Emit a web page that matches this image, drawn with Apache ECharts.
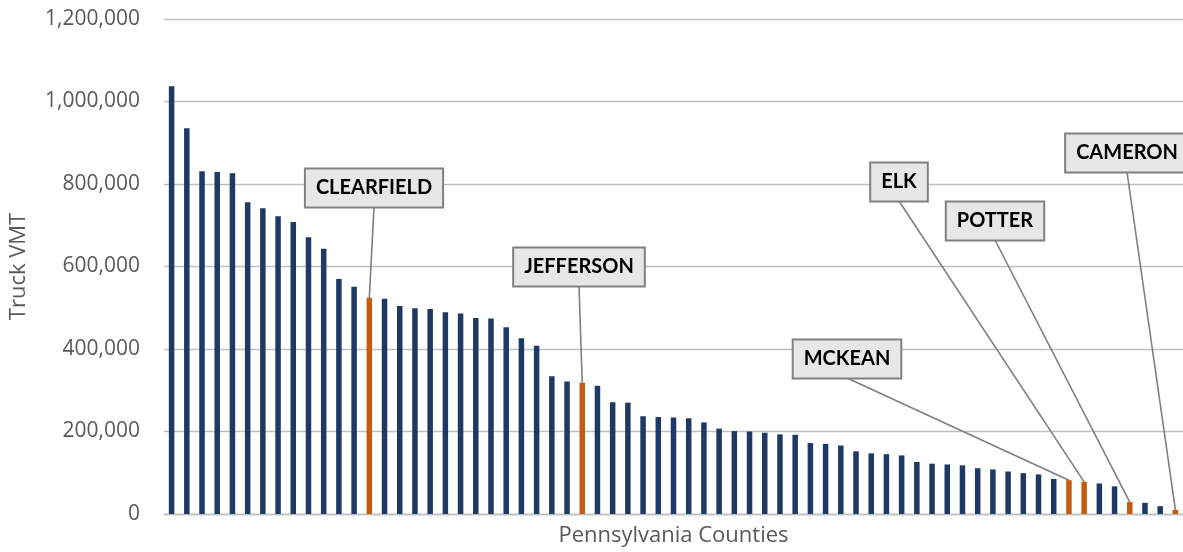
<!DOCTYPE html>
<html>
<head>
<meta charset="utf-8">
<script src="https://cdn.jsdelivr.net/npm/echarts@6/dist/echarts.min.js"></script>
<style>
  html, body { margin: 0; padding: 0; background: #fff; }
  #chart { width: 1183px; height: 552px; }
</style>
</head>
<body>
<div id="chart"></div>
<script>
// Truck VMT by Pennsylvania county, ranked high to low (67 counties)
const truckVMT = [
  1037000, 935000, 831000, 829000, 826000, 756000, 741000, 722000, 708000, 671000,
  643000, 570000, 551000, 524000, 522000, 504000, 499000, 497000, 489000, 486000,
  475000, 474000, 453000, 426000, 408000, 334000, 321000, 318000, 311000, 271000,
  270000, 237000, 235000, 234000, 232000, 222000, 207000, 201000, 200000, 197000,
  193000, 192000, 172000, 170000, 166000, 152000, 147000, 145000, 142000, 126000,
  122000, 120000, 118000, 111000, 108000, 103000, 99000, 96000, 85000, 82000,
  78000, 74000, 67000, 29000, 27000, 19000, 10000
];

// County names shown as callouts; other counties stay unnamed
const countyLabels = [
  '', '', '', '', '', '', '', '', '', '',
  '', '', '', 'CLEARFIELD', '', '', '', '', '', '',
  '', '', '', '', '', '', '', 'JEFFERSON', '', '',
  '', '', '', '', '', '', '', '', '', '',
  '', '', '', '', '', '', '', '', '', '',
  '', '', '', '', '', '', '', '', '', 'MCKEAN',
  'ELK', '', '', 'POTTER', '', '', 'CAMERON'
];

const yTicks = { min: 0, max: 1200000, step: 200000 };

// Callout box centres (px) for the named counties
const calloutPos = {
  CLEARFIELD: [374, 188],
  JEFFERSON: [579, 267],
  MCKEAN: [847, 359],
  ELK: [899, 182],
  POTTER: [995, 221],
  CAMERON: [1127, 153]
};
const CALLOUT_HALF_H = 19;

const NAVY = '#1F3864';
const ORANGE = '#C55A11';
const LEADER = '#7f7f7f';

const categories = countyLabels.map((n, i) => n || String(i + 1));

const barData = truckVMT.map((v, i) => {
  const name = countyLabels[i];
  const item = { value: v, itemStyle: { color: name ? ORANGE : NAVY } };
  if (name) item.label = { show: true };
  return item;
});

// [categoryIndex, value] pairs for the named counties' leader lines
const leaderData = [];
countyLabels.forEach((n, i) => { if (n) leaderData.push([i, truckVMT[i]]); });

const chart = echarts.init(document.getElementById('chart'), null, { renderer: 'canvas' });

chart.setOption({
  animation: false,
  backgroundColor: '#ffffff',
  grid: { left: 162.35, top: 19, width: 1025.1, height: 495, containLabel: false },
  xAxis: {
    type: 'category',
    data: categories,
    name: 'Pennsylvania Counties',
    nameLocation: 'middle',
    nameGap: 11,
    nameTextStyle: { fontFamily: 'Open Sans', fontSize: 22, color: '#595959' },
    axisLine: { show: true, lineStyle: { color: '#bfbfbf', width: 1.3 } },
    axisTick: { show: false },
    axisLabel: { show: false },
    splitLine: { show: false }
  },
  yAxis: {
    type: 'value',
    min: yTicks.min,
    max: yTicks.max,
    interval: yTicks.step,
    name: 'Truck VMT',
    nameLocation: 'middle',
    nameGap: 134,
    nameTextStyle: { fontFamily: 'Open Sans', fontSize: 22, color: '#595959' },
    axisLine: { show: false },
    axisTick: { show: false },
    axisLabel: {
      margin: 24,
      fontFamily: 'Open Sans',
      fontSize: 21,
      color: '#595959',
      formatter: v => v.toLocaleString('en-US')
    },
    splitLine: { show: true, lineStyle: { color: '#bfbfbf', width: 1.3 } }
  },
  series: [
    {
      // leader lines from each callout box down to its bar
      type: 'custom',
      data: leaderData,
      silent: true,
      clip: false,
      z: 1,
      renderItem: (params, api) => {
        const idx = api.value(0);
        const top = api.coord([idx, api.value(1)]);
        const pos = calloutPos[countyLabels[idx]];
        return {
          type: 'line',
          shape: { x1: pos[0], y1: pos[1] + CALLOUT_HALF_H, x2: top[0], y2: top[1] },
          style: { stroke: LEADER, lineWidth: 1.6 }
        };
      }
    },
    {
      type: 'bar',
      data: barData,
      barWidth: 5.5,
      z: 2,
      label: {
        show: false,
        position: 'top',
        formatter: p => countyLabels[p.dataIndex],
        fontFamily: 'Lato',
        fontWeight: 'bold',
        fontSize: 20,
        color: '#000000',
        backgroundColor: '#e7e7e7',
        borderColor: '#808080',
        borderWidth: 2,
        padding: [9, 10, 8, 10]
      },
      labelLayout: p => {
        const pos = calloutPos[countyLabels[p.dataIndex]];
        if (!pos) return {};
        return { x: pos[0], y: pos[1], align: 'center', verticalAlign: 'middle' };
      }
    }
  ]
});
</script>
</body>
</html>
